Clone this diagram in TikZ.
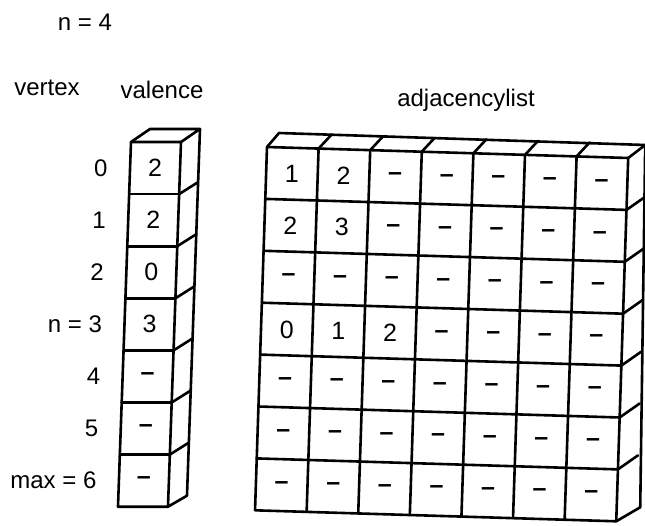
\documentclass[tikz,border=0pt]{standalone}
\usepackage{fontspec}
\setmainfont{Liberation Sans}
\begin{document}
\begin{tikzpicture}[x=1pt,y=-1pt,
  lbl/.style={font=\fontsize{24}{28}\selectfont},
  cell/.style={font=\fontsize{25}{30}\selectfont, inner sep=0pt},
  gridline/.style={line width=2.6pt, line join=round, line cap=round}]
\useasboundingbox (0,0) rectangle (645,525);
\node[lbl] (n4) at (85,22) {n = 4};
\node[lbl] (vertex) at (47,88) {vertex};
\node[lbl] (valence) at (162,90) {valence};
\node[lbl] (adj) at (466,100) {adjacencylist};

% valence column
\begin{scope}[shift={(131pt,-142pt)}, x={(50pt,0pt)}, y={(-1.86pt,-52.1pt)}]
  \draw[gridline] (0,0) -- (1,0) -- (1,7) -- (0,7) -- cycle;
  \foreach \j in {1,...,6} \draw[gridline] (0,\j) -- (1,\j);
  \draw[gridline] (0,0) -- ([shift={(19pt,13pt)}]0,0) -- ([shift={(19pt,13pt)}]1,0) -- (1,0);
  \draw[gridline] ([shift={(19pt,13pt)}]1,0) -- ([shift={(19pt,11pt)}]1,7) -- (1,7);
  \foreach \j in {1,...,6} \draw[gridline] (1,\j) -- ++(19pt,12pt);
  \foreach \v [count=\j from 0] in {2,2,0,3,\textbf{–},\textbf{–},\textbf{–}}
    \node[cell] (v\j) at (0.5,\j+0.5) {\v};
  \foreach \t [count=\j from 0] in {0,1,2,n = 3,4,5,max = 6}
    \node[lbl, anchor=east, xshift=-19pt] (l\j) at (0,\j+0.5) {\t};
\end{scope}

% adjacency list
\begin{scope}[shift={(267pt,-147pt)}, x={(51.6pt,-1.57pt)}, y={(-1.71pt,-51.9pt)}]
  \draw[gridline] (0,0) -- (7,0) -- (7,7) -- (0,7) -- cycle;
  \foreach \k in {1,...,6} {
    \draw[gridline] (0,\k) -- (7,\k);
    \draw[gridline] (\k,0) -- (\k,7);
  }
  \draw[gridline] (0,0) -- ([shift={(12pt,14pt)}]0,0) -- ([shift={(17pt,13pt)}]7,0) -- (7,0);
  \foreach \k in {1,...,6} \draw[gridline] (\k,0) -- ++(13pt,14pt);
  \draw[gridline] ([shift={(17pt,13pt)}]7,0) -- ([shift={(24pt,14pt)}]7,7) -- (7,7);
  \foreach \k in {1,...,6} \draw[gridline] (7,\k) -- ++(20pt,14pt);
  \foreach \row [count=\j from 0] in {
      {1,2,d,d,d,d,d},
      {2,3,d,d,d,d,d},
      {d,d,d,d,d,d,d},
      {0,1,2,d,d,d,d},
      {d,d,d,d,d,d,d},
      {d,d,d,d,d,d,d},
      {d,d,d,d,d,d,d}}
    \foreach \v [count=\i from 0] in \row {
      \if d\v
        \node[cell] (a\j-\i) at (\i+0.5,\j+0.5) {\textbf{–}};
      \else
        \node[cell] (a\j-\i) at (\i+0.5,\j+0.5) {\v};
      \fi
    }
\end{scope}
\end{tikzpicture}
\end{document}
